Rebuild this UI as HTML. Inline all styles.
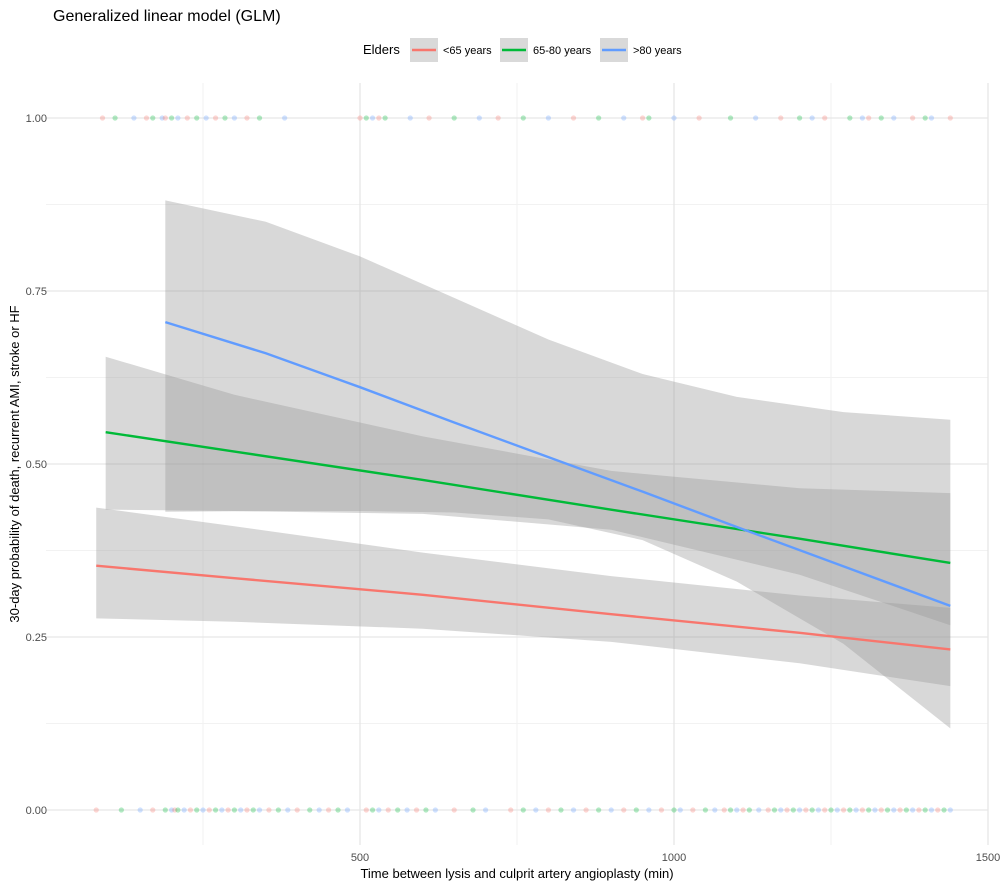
<!DOCTYPE html>
<html><head><meta charset="utf-8"><style>
body{margin:0;background:#fff;font-family:"Liberation Sans",sans-serif}
svg text{font-family:"Liberation Sans",sans-serif}
</style></head><body>
<svg id="c" width="1000" height="888"></svg>
<script>
const xTicks=[500,1000,1500];
const xMinor=[250,750,1250];
const yTicks=[0,0.25,0.5,0.75,1];
const yTickLabels=["0.00","0.25","0.50","0.75","1.00"];
const yMinor=[0.125,0.375,0.625,0.875];
const groups=["<65 years","65-80 years",">80 years"];
const colors=["#F8766D","#00BA38","#619CFF"];
const redT=[80,300,600,900,1200,1440];
const redFit=[0.353,0.335,0.311,0.283,0.256,0.232];
const redLo=[0.277,0.272,0.262,0.243,0.212,0.179];
const redHi=[0.437,0.41,0.372,0.338,0.31,0.292];
const greenT=[95,300,600,900,1200,1440];
const greenFit=[0.546,0.518,0.477,0.434,0.392,0.357];
const greenLo=[0.434,0.432,0.428,0.405,0.34,0.267];
const greenHi=[0.655,0.6,0.54,0.49,0.465,0.458];
const blueT=[190,350,500,650,800,950,1100,1270,1440];
const blueFit=[0.705,0.66,0.611,0.56,0.51,0.46,0.409,0.352,0.295];
const blueLo=[0.431,0.432,0.432,0.43,0.42,0.39,0.33,0.24,0.118];
const blueHi=[0.881,0.85,0.80,0.74,0.68,0.63,0.597,0.575,0.564];
const events1=[90,110,140,160,170,185,190,200,210,225,240,255,270,285,300,320,340,380,500,510,520,530,540,580,610,650,690,720,760,800,840,880,920,950,960,1000,1040,1090,1130,1170,1200,1220,1240,1280,1300,1310,1330,1350,1380,1400,1410,1440];
const events0=[80,120,150,170,190,200,205,210,220,230,240,250,260,270,280,290,300,310,320,330,340,355,370,385,400,420,435,450,465,480,510,520,530,545,560,575,590,605,620,650,680,700,740,760,780,800,820,840,860,880,900,920,940,960,980,1000,1010,1030,1050,1065,1080,1090,1100,1110,1120,1135,1150,1160,1170,1180,1190,1200,1210,1220,1230,1240,1250,1260,1270,1280,1290,1300,1310,1320,1330,1340,1350,1360,1370,1380,1390,1400,1410,1420,1430,1440];
const X=t=>46+t*0.628;
const Y=p=>810-p*692;
const svg=document.getElementById('c');
const NS='http://www.w3.org/2000/svg';
function mk(tag,at,parent){const e=document.createElementNS(NS,tag);for(const k in at)e.setAttribute(k,at[k]);(parent||svg).appendChild(e);return e;}
xMinor.forEach(v=>{const l=mk('line',{x1:X(v),x2:X(v),y1:83,y2:845,stroke:'#f2f2f2','stroke-width':1});

});
yMinor.forEach(v=>{const l=mk('line',{x1:46,x2:988,y1:Y(v),y2:Y(v),stroke:'#f2f2f2','stroke-width':1});

});
xTicks.forEach(v=>{const l=mk('line',{x1:X(v),x2:X(v),y1:83,y2:845,stroke:'#e6e6e6','stroke-width':1.3});


const t=mk('text',{x:X(v),y:861,'text-anchor':'middle','font-size':11,fill:'#4d4d4d'});t.textContent=v;

});
yTicks.forEach((v,i)=>{const l=mk('line',{x1:46,x2:988,y1:Y(v),y2:Y(v),stroke:'#e6e6e6','stroke-width':1.3});


const t=mk('text',{x:47,y:Y(v)+4,'text-anchor':'end','font-size':11,fill:'#4d4d4d'});t.textContent=yTickLabels[i];

});
[[events1,1],[events0,0]].forEach(([arr,p])=>arr.forEach((t,i)=>{const c=mk('circle',{cx:X(t),cy:Y(p),r:2.6,fill:colors[(i*7)%3],'fill-opacity':0.3});

}));
const series=[[redT,redFit,redLo,redHi],[greenT,greenFit,greenLo,greenHi],[blueT,blueFit,blueLo,blueHi]];
series.forEach(([T,F,L,H],g)=>{
 let d='M'+T.map((t,i)=>X(t)+','+Y(H[i])).join('L')+'L'+T.slice().reverse().map((t,j)=>X(t)+','+Y(L[T.length-1-j])).join('L')+'Z';
 const r=mk('path',{d,fill:'#999','fill-opacity':0.38});
 
 
});
series.forEach(([T,F],g)=>{
 const p=mk('polyline',{points:T.map((t,i)=>X(t)+','+Y(F[i])).join(' '),fill:'none',stroke:colors[g],'stroke-width':2.4});
 
 
});
let t=mk('text',{x:53,y:21,'font-size':16,fill:'#000'});t.textContent='Generalized linear model (GLM)';


t=mk('text',{x:517,y:878,'text-anchor':'middle','font-size':13,fill:'#000'});t.textContent='Time between lysis and culprit artery angioplasty (min)';


t=mk('text',{x:19,y:464,'text-anchor':'middle','font-size':13,fill:'#000',transform:'rotate(-90 19 464)'});t.textContent='30-day probability of death, recurrent AMI, stroke or HF';


t=mk('text',{x:363,y:54,'font-size':13,fill:'#000'});t.textContent='Elders';


const lx=[410,500,600];
groups.forEach((g,i)=>{
 const r=mk('rect',{x:lx[i],y:38,width:28,height:24,fill:'#d9d9d9'});
 
 
 const l=mk('line',{x1:lx[i]+2,x2:lx[i]+26,y1:50,y2:50,stroke:colors[i],'stroke-width':2.4});
 
 
 const tx=mk('text',{x:lx[i]+33,y:54,'font-size':11,fill:'#000'});tx.textContent=g;
 
 
});
</script>
</body></html>
